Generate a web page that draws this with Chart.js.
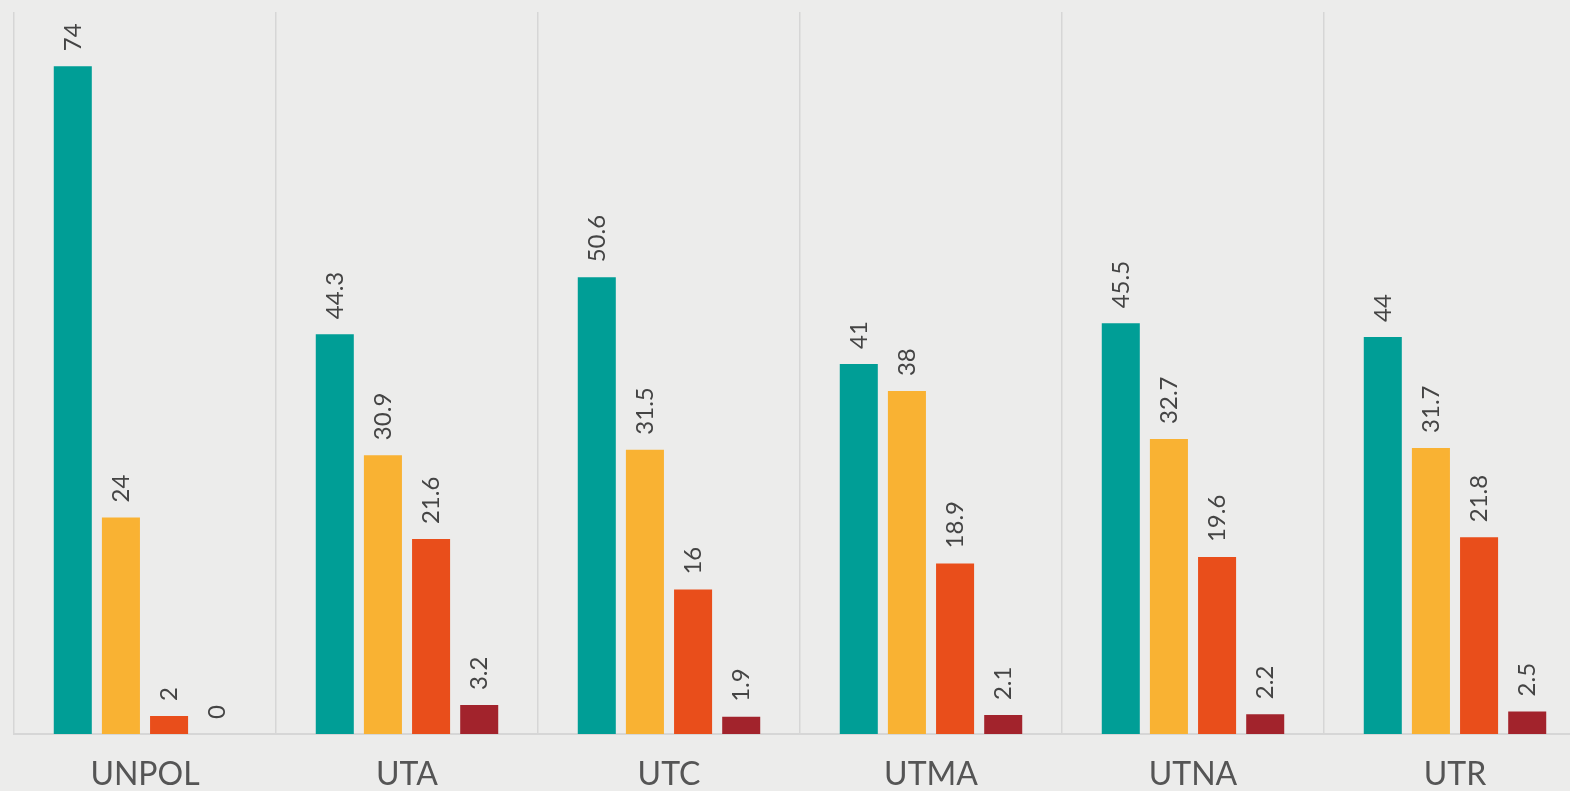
<!DOCTYPE html>
<html>
<head>
<meta charset="utf-8">
<script src="https://cdn.jsdelivr.net/npm/chart.js@4"></script>
<style>
  html, body { margin: 0; padding: 0; overflow: hidden; background: #ececeb; }
  #wrap { position: absolute; left: 0; top: 0; width: 1600px; height: 791px; }
</style>
</head>
<body>
<div id="wrap"><canvas id="myChart"></canvas></div>
<script>
    // setup
    const categories = ['UNPOL', 'UTA', 'UTC', 'UTMA', 'UTNA', 'UTR'];
    const seriesA = [74, 44.3, 50.6, 41, 45.5, 44];
    const seriesB = [24, 30.9, 31.5, 38, 32.7, 31.7];
    const seriesC = [2, 21.6, 16, 18.9, 19.6, 21.8];
    const seriesD = [0, 3.2, 1.9, 2.1, 2.2, 2.5];
    const colors = ['#009e96', '#f9b233', '#e94e1b', '#a2232c'];

    const data = {
      labels: categories,
      datasets: [seriesA, seriesB, seriesC, seriesD].map((values, i) => ({
        label: 'S' + (i + 1),
        data: values,
        backgroundColor: colors[i],
        borderWidth: 0,
        categoryPercentage: 0.735,
        barPercentage: 0.79,
      })),
    };

    // rotated value labels above each bar
    const valueLabels = {
      id: 'valueLabels',
      afterDatasetsDraw(chart) {
        const { ctx } = chart;
        ctx.save();
        ctx.font = '24px Lato';
        ctx.fillStyle = '#444';
        ctx.textAlign = 'left';
        ctx.textBaseline = 'middle';
        chart.data.datasets.forEach((ds, di) => {
          chart.getDatasetMeta(di).data.forEach((bar, i) => {
            ctx.save();
            ctx.translate(bar.x, bar.y - 15);
            ctx.rotate(-Math.PI / 2);
            ctx.fillText(String(ds.data[i]), 0, 0);
            ctx.restore();
          });
        });
        ctx.restore();
      },
    };

    // config
    const config = {
      type: 'bar',
      data,
      options: {
        responsive: true,
        maintainAspectRatio: false,
        animation: false,
        layout: { padding: { left: 14, top: 12, right: 14, bottom: 0 } },
        plugins: {
          legend: { display: false },
          tooltip: { enabled: false },
        },
        scales: {
          x: {
            offset: true,
            grid: { offset: true, color: '#d6d6d6', lineWidth: 1.5, drawTicks: false },
            border: { color: '#d6d6d6', width: 2 },
            ticks: { color: '#555', font: { family: 'Lato', size: 32 }, padding: 21 },
            afterFit(scale) { scale.height = 57; },
          },
          y: {
            display: false,
            min: 0,
            max: 80,
          },
        },
      },
      plugins: [valueLabels],
    };

    // render init block
    const myChart = new Chart(document.getElementById('myChart'), config);
</script>
</body>
</html>
